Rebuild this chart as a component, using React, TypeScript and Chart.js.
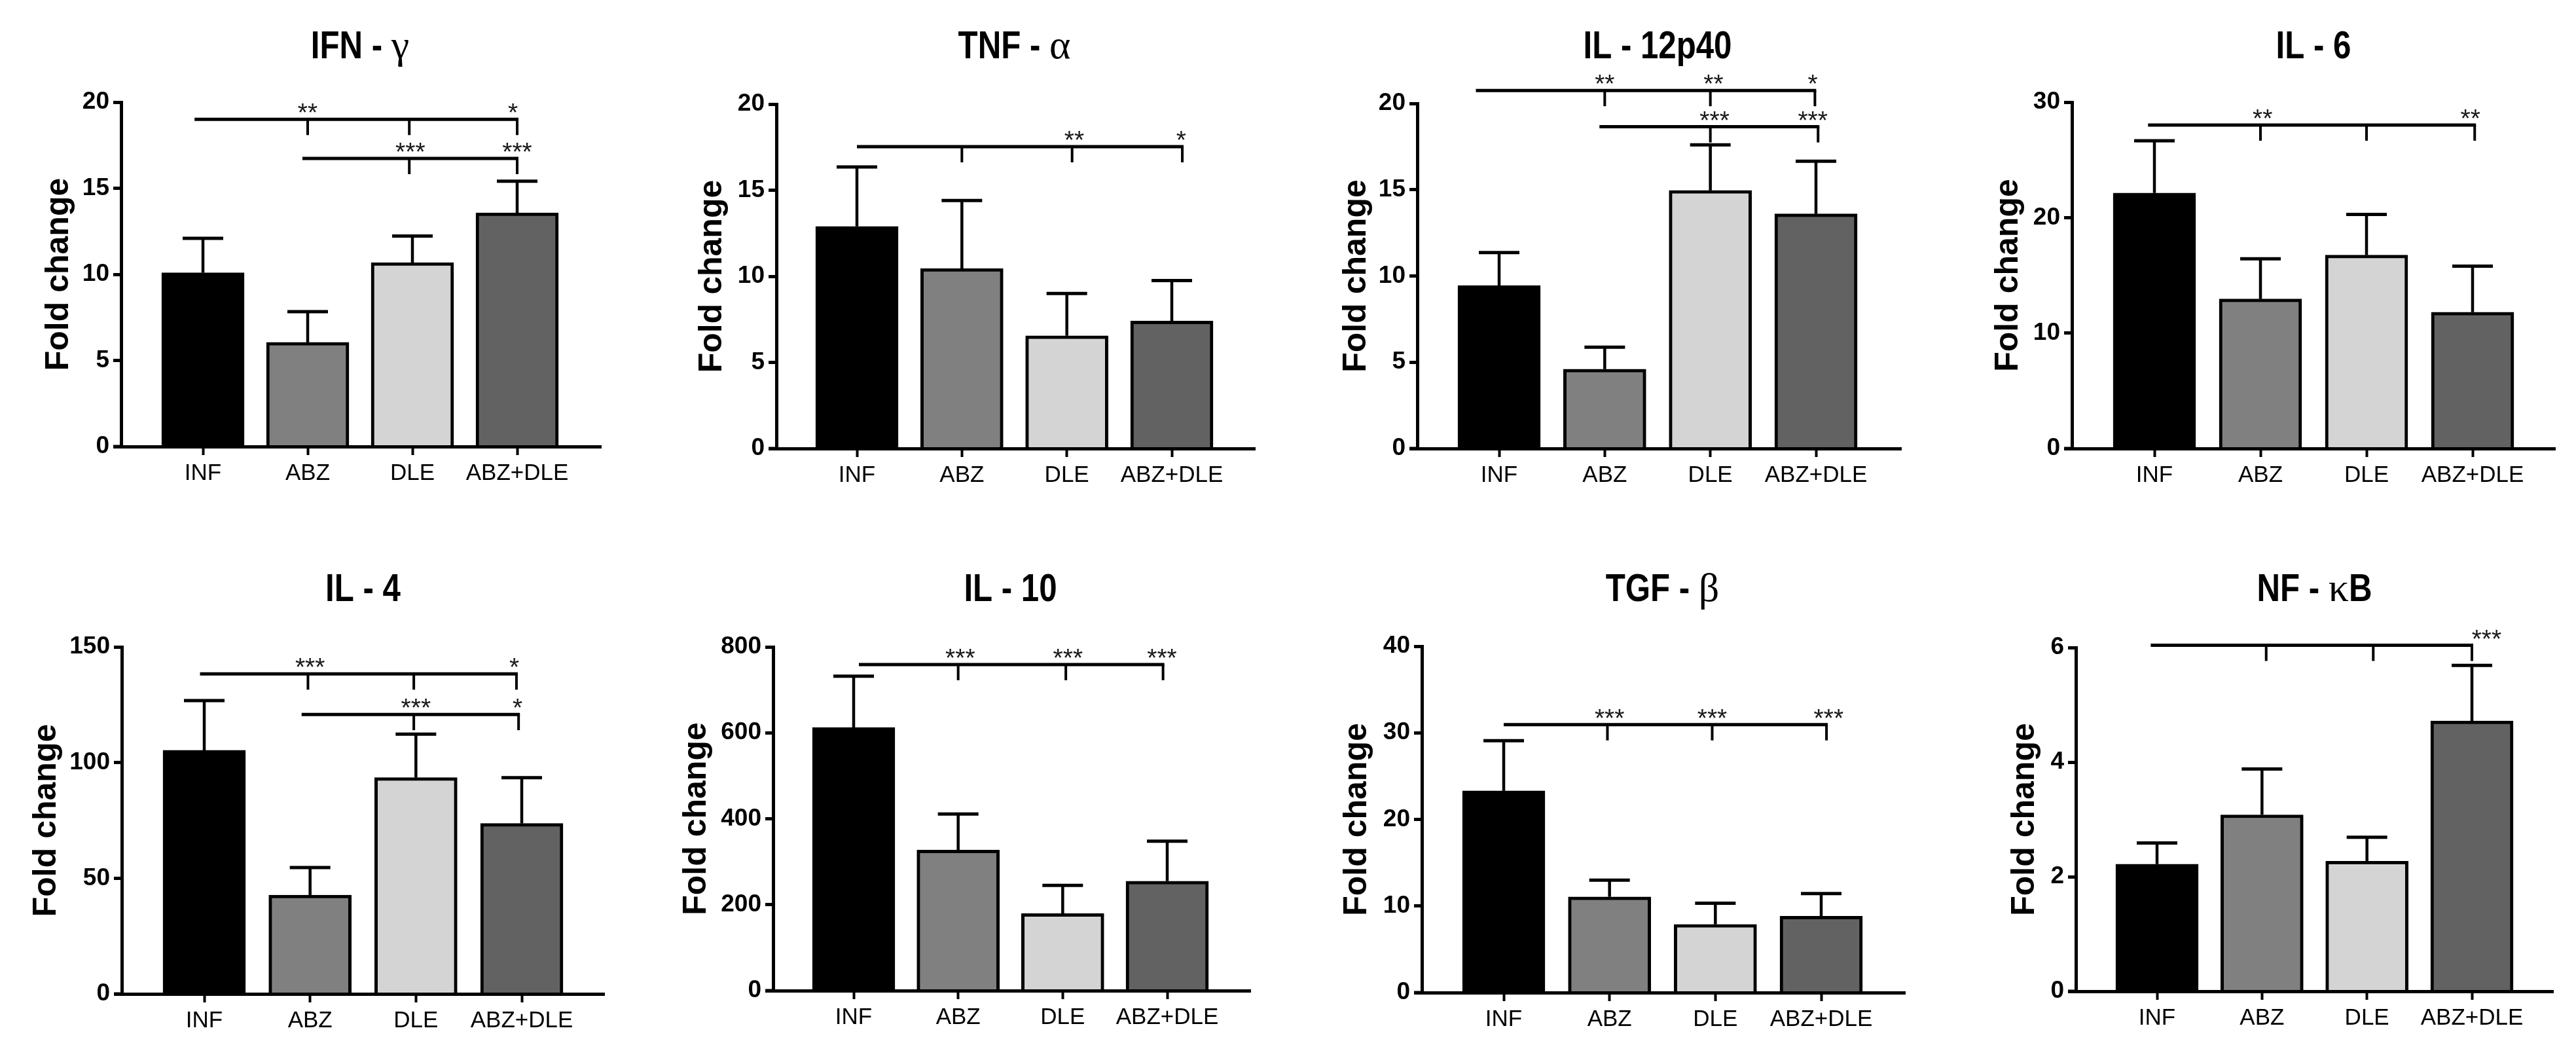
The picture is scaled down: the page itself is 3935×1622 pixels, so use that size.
import React, { useEffect, useRef } from 'react';
import { Chart, registerables } from 'chart.js';

Chart.register(...registerables);

// ---------------- data ----------------
const categories = ['INF', 'ABZ', 'DLE', 'ABZ+DLE'];
const barColors = ['#000000', '#808080', '#d4d4d4', '#626262'];

const titles = ['IFN - γ', 'TNF - α', 'IL - 12p40', 'IL - 6', 'IL - 4', 'IL - 10', 'TGF - β', 'NF - κB'];
const yAxisTitle = 'Fold change';

// mean fold change and error (SEM) per group: INF, ABZ, DLE, ABZ+DLE
const ifnMean = [10.09, 6.05, 10.68, 13.57];
const ifnErr = [2.0, 1.78, 1.54, 1.84];
const tnfMean = [12.9, 10.45, 6.55, 7.4];
const tnfErr = [3.45, 3.95, 2.45, 2.35];
const il12Mean = [9.45, 4.6, 14.96, 13.6];
const il12Err = [1.91, 1.27, 2.64, 3.05];
const il6Mean = [22.13, 12.95, 16.75, 11.81];
const il6Err = [4.53, 3.48, 3.53, 3.99];
const il4Mean = [105.3, 42.7, 93.5, 73.7];
const il4Err = [21.5, 11.9, 18.8, 19.8];
const il10Mean = [612.5, 327.2, 179.2, 254.9];
const il10Err = [119.2, 83.8, 65.8, 92.9];
const tgfMean = [23.3, 11.06, 7.88, 8.82];
const tgfErr = [5.8, 1.92, 2.45, 2.61];
const nfkbMean = [2.22, 3.08, 2.27, 4.72];
const nfkbErr = [0.37, 0.8, 0.42, 0.97];

// y axis maximum and tick step per panel
const yMaxes = [20, 20, 20, 30, 150, 800, 40, 6];
const ySteps = [5, 5, 5, 10, 50, 200, 10, 2];

// significance brackets: y level, horizontal extent (category units), drop positions, star labels
type Bracket = { y: number; from: number; to: number; drops: number[]; stars: [number, string][] };
const ifnBrackets: Bracket[] = [
  { y: 19, from: -0.08, to: 3, drops: [1, 1.97, 3], stars: [[1, '**'], [2.96, '*']] },
  { y: 16.73, from: 0.95, to: 3, drops: [1.97, 3], stars: [[1.98, '***'], [3, '***']] },
];
const tnfBrackets: Bracket[] = [
  { y: 17.53, from: 0, to: 3.1, drops: [1, 2.05, 3.1], stars: [[2.07, '**'], [3.09, '*']] },
];
const il12Brackets: Bracket[] = [
  { y: 20.75, from: -0.22, to: 2.99, drops: [1, 2, 2.99], stars: [[1, '**'], [2.03, '**'], [2.97, '*']] },
  { y: 18.65, from: 0.95, to: 3.02, drops: [2, 3.02], stars: [[2.04, '***'], [2.97, '***']] },
];
const il6Brackets: Bracket[] = [
  { y: 28.02, from: -0.06, to: 3.02, drops: [1, 2, 3.02], stars: [[1.02, '**'], [2.98, '**']] },
];
const il4Brackets: Bracket[] = [
  { y: 138.3, from: -0.04, to: 2.95, drops: [0.98, 1.98, 2.95], stars: [[1, '***'], [2.93, '*']] },
  { y: 120.8, from: 0.92, to: 2.97, drops: [1.98, 2.97], stars: [[2, '***'], [2.96, '*']] },
];
const il10Brackets: Bracket[] = [
  { y: 759, from: 0.05, to: 2.96, drops: [1, 2.03, 2.96], stars: [[1.02, '***'], [2.05, '***'], [2.95, '***']] },
];
const tgfBrackets: Bracket[] = [
  { y: 30.94, from: 0, to: 3.05, drops: [0.98, 1.97, 3.05], stars: [[1, '***'], [1.97, '***'], [3.07, '***']] },
];
const nfkbBrackets: Bracket[] = [
  { y: 6.04, from: -0.06, to: 3, drops: [1.04, 2.06, 3], stars: [[3.14, '***']] },
];

const means = [ifnMean, tnfMean, il12Mean, il6Mean, il4Mean, il10Mean, tgfMean, nfkbMean];
const errs = [ifnErr, tnfErr, il12Err, il6Err, il4Err, il10Err, tgfErr, nfkbErr];
const bracketSets = [ifnBrackets, tnfBrackets, il12Brackets, il6Brackets, il4Brackets, il10Brackets, tgfBrackets, nfkbBrackets];

// ---------------- layout (page pixels) ----------------
const layoutAxisX = [185, 1186, 2165, 3165, 186, 1181, 2172, 3171];
const layoutXEnd = [918, 1917, 2904, 3903, 923, 1910, 2910, 3900];
const layoutCat0 = [310, 1309, 2290, 3291, 312, 1304, 2297, 3295];
const layoutCat3 = [790, 1790, 2774, 3777, 797, 1783, 2782, 3776];
const layoutYTop = [156, 159, 158, 156, 988, 988, 987, 989];
const layoutY0 = [682, 685, 685, 685, 1518, 1513, 1516, 1514];
const layoutTitleGap = [95, 98, 93, 97, 115, 117, 99, 78];

const SANS = '"Liberation Sans", Arial, sans-serif';
const SERIF = '"Liberation Serif", "DejaVu Serif", serif';

const LEFT_SPACE = 180;
const Y_TITLE_SIZE = 50;
const X_AXIS_H = 80;
const NARROW_SCALE = 0.82;

function drawMixedTitle(ctx: CanvasRenderingContext2D, text: string, cx: number, baseline: number) {
  const runs: { t: string; greek: boolean }[] = [];
  for (const ch of text) {
    const g = /[\u0370-\u03FF]/.test(ch);
    if (runs.length && runs[runs.length - 1].greek === g) runs[runs.length - 1].t += ch;
    else runs.push({ t: ch, greek: g });
  }
  const fontFor = (g: boolean) => (g ? `62px ${SERIF}` : `bold 60px ${SANS}`);
  let total = 0;
  const widths = runs.map((r) => {
    ctx.font = fontFor(r.greek);
    const w = ctx.measureText(r.t).width * (r.greek ? 1 : NARROW_SCALE);
    total += w;
    return w;
  });
  let x = cx - total / 2;
  ctx.fillStyle = '#000';
  ctx.textAlign = 'left';
  ctx.textBaseline = 'alphabetic';
  runs.forEach((r, i) => {
    ctx.font = fontFor(r.greek);
    ctx.save();
    ctx.translate(x, baseline);
    if (!r.greek) ctx.scale(NARROW_SCALE, 1);
    ctx.fillText(r.t, 0, 0);
    ctx.restore();
    x += widths[i];
  });
}

function Panel({ idx }: { idx: number }) {
  const ref = useRef<HTMLCanvasElement>(null);
  const row = idx < 4 ? 0 : 1;
  const canvasTop = row === 0 ? 0 : 780;
  const canvasH = row === 0 ? 780 : 842;
  const axisX = layoutAxisX[idx];
  const canvasLeft = axisX - LEFT_SPACE;
  const canvasW = layoutXEnd[idx] + 25 - canvasLeft;

  useEffect(() => {
    const mean = means[idx];
    const err = errs[idx];
    const brackets = bracketSets[idx];
    const sp = (layoutCat3[idx] - layoutCat0[idx]) / 3;
    const xMin = -(layoutCat0[idx] - axisX) / sp;
    const xMax = 3 + (layoutXEnd[idx] - layoutCat3[idx]) / sp;
    const yTitleWidth = layoutTitleGap[idx] + (Y_TITLE_SIZE * 1.2) / 2;
    const titleBaseline = (row === 0 ? 89 : 918) - canvasTop;

    const overlay = {
      id: 'overlay',
      afterDatasetsDraw(chart: any) {
        const ctx: CanvasRenderingContext2D = chart.ctx;
        const xs = chart.scales.x;
        const ys = chart.scales.y;
        ctx.save();
        ctx.strokeStyle = '#000';
        // x axis small extension left of the y axis
        ctx.lineWidth = 5;
        ctx.beginPath();
        ctx.moveTo(chart.chartArea.left - 12, ys.getPixelForValue(0));
        ctx.lineTo(chart.chartArea.left, ys.getPixelForValue(0));
        ctx.stroke();
        // error bars
        mean.forEach((m, i) => {
          const x = xs.getPixelForValue(i);
          const yb = ys.getPixelForValue(m);
          const yt = ys.getPixelForValue(m + err[i]);
          ctx.lineWidth = 4.5;
          ctx.beginPath();
          ctx.moveTo(x, yb);
          ctx.lineTo(x, yt);
          ctx.stroke();
          ctx.lineWidth = 5;
          ctx.beginPath();
          ctx.moveTo(x - 31, yt);
          ctx.lineTo(x + 31, yt);
          ctx.stroke();
        });
        // significance brackets
        brackets.forEach((b) => {
          const ly = ys.getPixelForValue(b.y);
          ctx.lineWidth = 5;
          ctx.beginPath();
          ctx.moveTo(xs.getPixelForValue(b.from), ly);
          ctx.lineTo(xs.getPixelForValue(b.to) + 2, ly);
          ctx.stroke();
          ctx.lineWidth = 4;
          b.drops.forEach((d) => {
            const dx = xs.getPixelForValue(d);
            ctx.beginPath();
            ctx.moveTo(dx, ly);
            ctx.lineTo(dx, ly + 24);
            ctx.stroke();
          });
          ctx.fillStyle = '#1a1a1a';
          ctx.font = `39px ${SANS}`;
          ctx.textAlign = 'center';
          ctx.textBaseline = 'alphabetic';
          b.stars.forEach(([at, s]) => {
            ctx.fillText(s, xs.getPixelForValue(at), ly + 3);
          });
        });
        // title
        drawMixedTitle(ctx, titles[idx], xs.getPixelForValue(1.5), titleBaseline);
        ctx.restore();
      },
    };

    const chart = new Chart(ref.current!, {
      type: 'bar',
      data: {
        datasets: [
          {
            data: mean.map((v, i) => ({ x: i, y: v })),
            backgroundColor: barColors,
            borderColor: '#000',
            borderWidth: 5,
            barThickness: 126,
          } as any,
        ],
      },
      options: {
        animation: false,
        responsive: false,
        maintainAspectRatio: false,
        devicePixelRatio: 1,
        layout: {
          padding: {
            left: LEFT_SPACE - yTitleWidth,
            right: 25,
            top: layoutYTop[idx] - canvasTop,
            bottom: canvasH - (layoutY0[idx] - canvasTop) - X_AXIS_H,
          },
        },
        plugins: {
          legend: { display: false },
          tooltip: { enabled: false },
          title: { display: false },
        },
        scales: {
          x: {
            type: 'linear',
            offset: false,
            min: xMin,
            max: xMax,
            afterBuildTicks: (s: any) => {
              s.ticks = categories.map((_, i) => ({ value: i }));
            },
            afterFit: (s: any) => {
              s.height = X_AXIS_H;
            },
            ticks: {
              autoSkip: false,
              maxRotation: 0,
              minRotation: 0,
              padding: 7,
              color: '#000',
              font: { family: SANS, size: 35 },
              callback: (v: any) => categories[v] ?? '',
            },
            grid: {
              offset: false,
              drawOnChartArea: false,
              drawTicks: true,
              tickLength: 13,
              tickWidth: 4,
              tickColor: '#000',
            },
            border: { display: true, color: '#000', width: 5, z: 1 },
          },
          y: {
            min: 0,
            max: yMaxes[idx],
            afterFit: (s: any) => {
              s.width = yTitleWidth;
            },
            ticks: {
              stepSize: ySteps[idx],
              padding: 6,
              color: '#000',
              font: { family: SANS, size: 37, weight: 'bold' },
            },
            grid: {
              drawOnChartArea: false,
              drawTicks: true,
              tickLength: 12,
              tickWidth: 5,
              tickColor: '#000',
            },
            border: { display: true, color: '#000', width: 5, z: 1 },
            title: {
              display: true,
              text: yAxisTitle,
              color: '#000',
              padding: 0,
              font: { family: SANS, size: Y_TITLE_SIZE, weight: 'bold' },
            },
          },
        },
      } as any,
      plugins: [overlay],
    });
    return () => chart.destroy();
  }, []);

  return (
    <canvas
      ref={ref}
      width={canvasW}
      height={canvasH}
      style={{ position: 'absolute', left: canvasLeft, top: canvasTop, width: canvasW, height: canvasH }}
    />
  );
}

export default function App() {
  return (
    <div style={{ position: 'absolute', left: 0, top: 0, width: 3935, height: 1622, background: '#fff', overflow: 'hidden' }}>
      {titles.map((_, i) => (
        <Panel key={i} idx={i} />
      ))}
    </div>
  );
}
